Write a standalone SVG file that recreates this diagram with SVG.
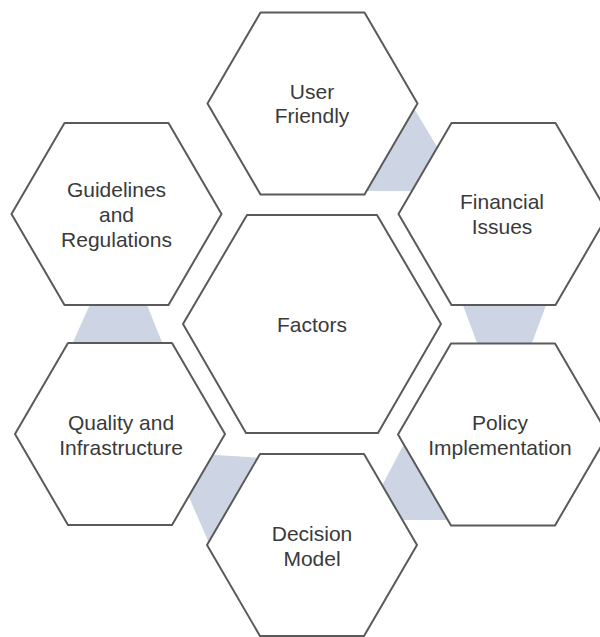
<svg xmlns="http://www.w3.org/2000/svg" xmlns:xlink="http://www.w3.org/1999/xlink" width="600" height="637" viewBox="0 0 600 637">
  <style>
    .hex { fill: #ffffff; stroke: #5a5a5a; stroke-width: 2; stroke-linejoin: round; }
    .band { fill: #cdd5e4; stroke: none; }
    .lbl { font-family: "Liberation Sans", Arial, sans-serif; font-size: 21px; fill: #3a3a3a; text-anchor: middle; }
  </style>
  <defs>
    <!-- outer hexagon, centred on the origin -->
    <polygon id="hex" class="hex" points="-105,0 -52,-91 52,-91 105,0 52,91 -52,91"/>
  </defs>

  <rect width="600" height="637" fill="#ffffff"/>

  <!-- shaded links between neighbouring hexagons (drawn beneath them) -->
  <g id="connectors">
    <polygon class="band" points="412,105 445,160 430,191 360,191"/>
    <polygon class="band" points="92,300 145,300 162,342 73,342"/>
    <polygon class="band" points="461,300 548,300 532,343 477,343"/>
    <polygon class="band" points="200,454 262,458 240,545 212,550 175,465"/>
    <polygon class="band" points="406,440 364,520 460,520 430,440"/>
  </g>

  <g id="factors">
    <polygon class="hex" points="183,324 247,215 377,215 441,324 378,433 246,433"/>
    <text class="lbl" x="312" y="332">Factors</text>
  </g>

  <g id="user-friendly">
    <use xlink:href="#hex" href="#hex" transform="translate(312.5,103.5)"/>
    <text class="lbl" x="312" y="99">User</text>
    <text class="lbl" x="312" y="123">Friendly</text>
  </g>

  <g id="financial-issues">
    <use xlink:href="#hex" href="#hex" transform="translate(503.5,214)"/>
    <text class="lbl" x="502" y="209">Financial</text>
    <text class="lbl" x="502" y="234">Issues</text>
  </g>

  <g id="policy-implementation">
    <use xlink:href="#hex" href="#hex" transform="translate(503,434.5)"/>
    <text class="lbl" x="500" y="430">Policy</text>
    <text class="lbl" x="500" y="455">Implementation</text>
  </g>

  <g id="decision-model">
    <use xlink:href="#hex" href="#hex" transform="translate(312,545)"/>
    <text class="lbl" x="312" y="541">Decision</text>
    <text class="lbl" x="312" y="566">Model</text>
  </g>

  <g id="quality-infrastructure">
    <use xlink:href="#hex" href="#hex" transform="translate(120,434)"/>
    <text class="lbl" x="121" y="430">Quality and</text>
    <text class="lbl" x="121" y="455">Infrastructure</text>
  </g>

  <g id="guidelines-regulations">
    <use xlink:href="#hex" href="#hex" transform="translate(116.5,214)"/>
    <text class="lbl" x="116.5" y="197">Guidelines</text>
    <text class="lbl" x="116.5" y="222">and</text>
    <text class="lbl" x="116.5" y="247">Regulations</text>
  </g>
</svg>
